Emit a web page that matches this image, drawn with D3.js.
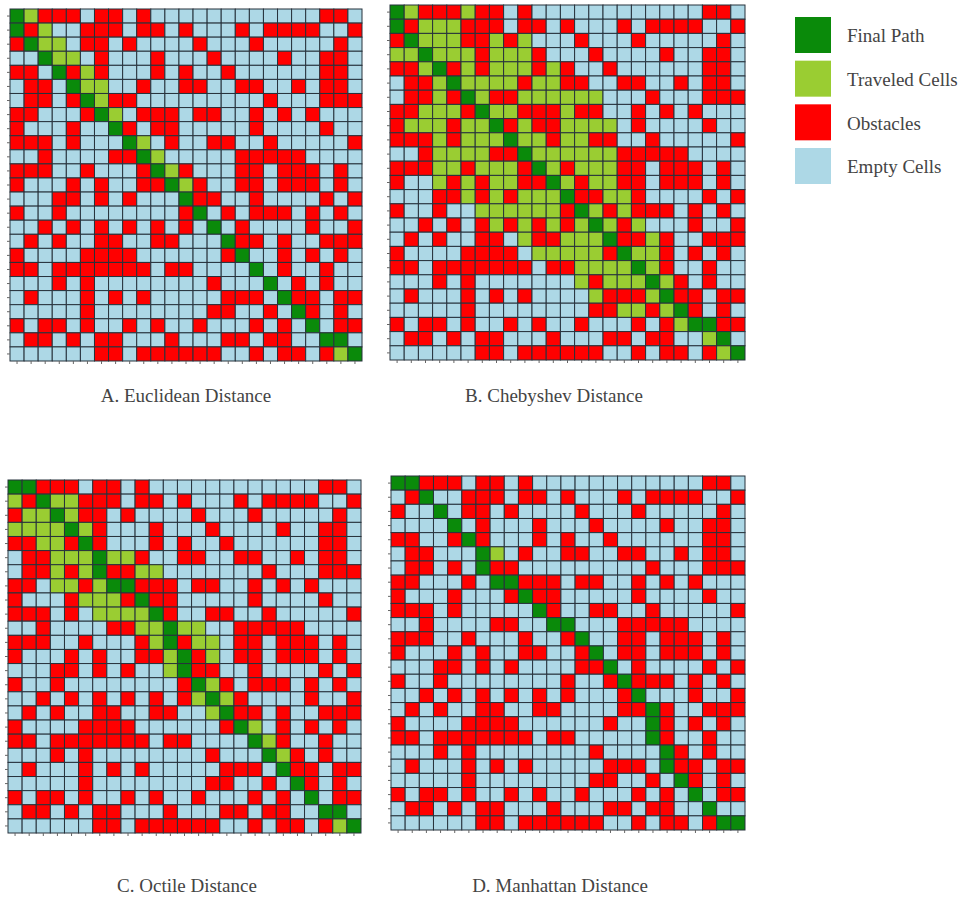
<!DOCTYPE html>
<html>
<head>
<meta charset="utf-8">
<script src="https://cdn.jsdelivr.net/npm/d3@7"></script>
<style>
  body { margin: 0; background: #fff; }
  text { font-family: "Liberation Serif", "Times New Roman", serif; }
</style>
</head>
<body>
<script>

// obstacle map, shared by all four searches (1 = obstacle), row 0 at the top
const obstacles = [
  "0011101101000000000000110",
  "0100011101101000101111001",
  "1000011010000100010000010",
  "0000001000100010000100110",
  "1100101000101001000000110",
  "0110000001001100110010110",
  "0110100110000000001000111",
  "1100010001110110010101000",
  "1000100010110000010000100",
  "1110100000010011001000001",
  "0010000110000000111110000",
  "1110010001001000110111010",
  "1000101001100100110111010",
  "0001101010000110010000101",
  "1001000000001001011101010",
  "0010101010101000100001001",
  "0101001100110000110100111",
  "1000011110000001000101010",
  "1101111111011000000100100",
  "0001010000000010000010100",
  "0100010101000001110011011",
  "0000010000000011001001010",
  "1011010010100100010100011",
  "0110101100010001101100000",
  "0000001101111110010110100"
];

// final paths, [row, col]
const pathA = [[0,0],[1,0],[2,1],[3,2],[4,3],[5,4],[6,5],[7,6],[8,7],[9,8],[10,9],[11,10],[12,11],
  [13,12],[14,13],[15,14],[16,15],[17,16],[18,17],[19,18],[20,19],[21,20],[22,21],[23,22],[23,23],[24,24]];
const pathB = [[0,0],[1,0],[2,1],[3,2],[4,3],[5,4],[6,5],[7,6],[8,7],[9,8],[10,9],[11,10],[12,11],
  [13,12],[14,13],[15,14],[16,15],[17,16],[18,17],[19,18],[20,19],[21,20],[22,21],[22,22],[23,23],[24,24]];
const pathC = [[0,0],[0,1],[1,2],[2,3],[3,4],[4,5],[5,6],[6,6],[7,7],[7,8],[8,9],[9,10],[10,11],[11,11],
  [12,12],[13,12],[14,13],[15,14],[16,15],[17,16],[18,17],[19,18],[20,19],[21,20],[22,21],[23,22],[23,23],[24,24]];
const pathD = [[0,0],[0,1],[1,2],[2,3],[3,4],[4,5],[5,6],[6,6],[7,7],[7,8],[8,9],[9,10],[10,11],[10,12],
  [11,13],[12,14],[13,15],[14,16],[15,17],[16,18],[17,18],[18,18],[19,19],[20,19],[21,20],[22,21],[23,22],[24,23],[24,24]];

// traveled (explored) cells, [row, col]
const travelA = [[0,1],[1,2],[2,2],[2,3],[3,3],[3,4],[4,5],[5,5],[5,6],[6,6],[7,7],
  [9,9],[10,10],[11,11],[12,12],[24,23]];
const travelC = [[1,0],[1,3],[1,4],[2,1],[2,2],[2,4],[3,0],[3,1],[3,2],[3,3],[3,5],[4,2],[4,3],
  [5,3],[5,4],[5,5],[5,7],[5,8],[6,3],[6,5],[6,9],[6,10],[7,3],[7,4],[7,6],[8,5],[8,6],[8,7],
  [9,6],[9,7],[9,8],[9,9],[10,9],[10,10],[10,12],[10,13],[11,10],[11,13],[11,14],[12,11],[12,14],
  [13,11],[14,14],[15,13],[15,15],[16,14],[17,17],[18,18],[19,19],[24,23]];
const travelD = [[5,7]];
// Chebyshev explored a whole band: [row, firstCol, lastCol] (obstacles inside stay red)
const travelSpansB = [[0,0,5],[1,0,4],[2,1,9],[3,0,9],[4,2,11],[5,3,11],[6,3,14],[7,2,12],
  [8,1,15],[9,3,15],[10,3,15],[11,3,15],[12,3,15],[13,5,16],[14,6,16],[15,7,17],[16,9,18],
  [17,10,18],[18,13,18],[19,13,19],[20,14,19],[21,16,20],[22,20,22],[23,22,23],[24,23,24]];

const titles = ["A. Euclidean Distance", "B. Chebyshev Distance", "C. Octile Distance", "D. Manhattan Distance"];
const legendLabels = ["Final Path", "Traveled Cells", "Obstacles", "Empty Cells"];

const N = obstacles.length;
const colors = {path: "#0a8a0a", travel: "#9acd32", obstacle: "#ff0000", empty: "#add8e6"};

const travelB = [];
travelSpansB.forEach(([r, a, b]) => { for (let c = a; c <= b; c++) travelB.push([r, c]); });

const panels = [
  {title: titles[0], path: pathA, travel: travelA, x: 10,  y: 9,   size: 352, tx: 186, ty: 398},
  {title: titles[1], path: pathB, travel: travelB, x: 390, y: 5,   size: 355, tx: 554, ty: 398},
  {title: titles[2], path: pathC, travel: travelC, x: 8,   y: 480, size: 353, tx: 187, ty: 888},
  {title: titles[3], path: pathD, travel: travelD, x: 391, y: 476, size: 354, tx: 560, ty: 888}
];

const svg = d3.select("body").append("svg")
    .attr("width", 965)
    .attr("height", 902);

const idx = d3.range(N);
const key = d => d[0] + "," + d[1];

panels.forEach(p => {
  const x = d3.scaleBand().domain(idx).range([0, p.size]);
  const y = d3.scaleBand().domain(idx).range([0, p.size]);
  const onPath = new Set(p.path.map(key));
  const visited = new Set(p.travel.map(key));

  const cells = [];
  idx.forEach(r => idx.forEach(c => {
    const k = r + "," + c;
    let state = "empty";
    if (onPath.has(k)) state = "path";
    else if (obstacles[r][c] === "1") state = "obstacle";
    else if (visited.has(k)) state = "travel";
    cells.push({r, c, state});
  }));

  const g = svg.append("g").attr("transform", `translate(${p.x},${p.y})`);

  g.selectAll("rect")
    .data(cells)
    .join("rect")
      .attr("x", d => x(d.c))
      .attr("y", d => y(d.r))
      .attr("width", x.bandwidth())
      .attr("height", y.bandwidth())
      .attr("fill", d => colors[d.state])
      .attr("stroke", "#27323c")
      .attr("stroke-width", 1);

  // small tick marks, no labels
  const ax = g.append("g")
      .attr("transform", `translate(0,${p.size})`)
      .call(d3.axisBottom(x).tickSize(3).tickFormat(""));
  const ay = g.append("g")
      .call(d3.axisLeft(y).tickSize(3).tickFormat(""));
  [ax, ay].forEach(a => {
    a.select(".domain").remove();
    a.selectAll("line").attr("stroke", "#666");
  });

  svg.append("text")
      .attr("x", p.tx)
      .attr("y", p.ty)
      .attr("text-anchor", "middle")
      .attr("dominant-baseline", "middle")
      .attr("font-size", 19)
      .attr("fill", "#444")
      .text(p.title);
});

// legend
const legendColors = [colors.path, colors.travel, colors.obstacle, colors.empty];
const ly = d3.scalePoint().domain(legendLabels).range([17, 148]);
const legend = svg.append("g");
legend.selectAll("rect")
  .data(legendLabels)
  .join("rect")
    .attr("x", 795)
    .attr("y", d => ly(d))
    .attr("width", 36)
    .attr("height", 36)
    .attr("fill", (d, i) => legendColors[i]);
legend.selectAll("text")
  .data(legendLabels)
  .join("text")
    .attr("x", 847)
    .attr("y", d => ly(d) + 21)
    .attr("dominant-baseline", "middle")
    .attr("font-size", 19)
    .attr("fill", "#444")
    .text(d => d);

</script>
</body>
</html>
